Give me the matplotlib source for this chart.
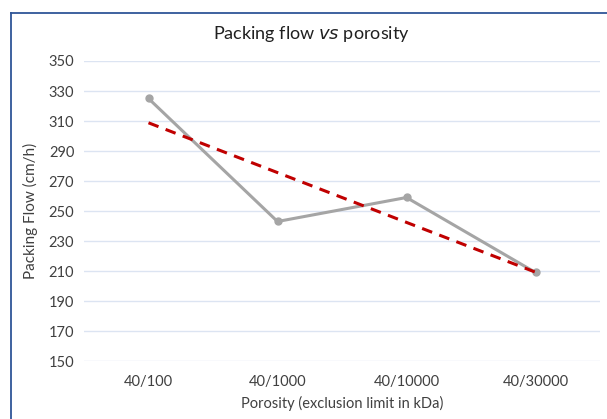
import matplotlib
matplotlib.use("Agg")
import matplotlib.pyplot as plt
import numpy as np
from matplotlib.lines import Line2D

categories = ["40/100", "40/1000", "40/10000", "40/30000"]
flow = [325, 243, 259, 209]
yticks = [150, 170, 190, 210, 230, 250, 270, 290, 310, 330, 350]

plt.rcParams['font.family'] = ['Lato', 'DejaVu Sans']

W, H = 607, 419
fig = plt.figure(figsize=(W/100, H/100), dpi=100)
ax = fig.add_axes([84/W, 1-361/H, (600-84)/W, (361-61)/H])

x = np.arange(len(categories))
ax.plot(x, flow, color="#A5A5A5", lw=2.2, marker="o", ms=5, zorder=3)
coef = np.polyfit(x, flow, 1)
ax.plot(x[[0, -1]], np.polyval(coef, x[[0, -1]]), color="#C00000", lw=2.2,
        ls=(0, (3.5, 2.5)), zorder=4)

ax.set_xlim(-0.5, len(categories) - 0.5)
ax.set_ylim(150, 350)
ax.set_yticks(yticks)
ax.set_xticks(x)
ax.set_xticklabels(categories)
ax.grid(axis="y", color="#DCE4F2", lw=1)
ax.set_axisbelow(True)
for s in ax.spines.values():
    s.set_visible(False)
ax.tick_params(length=0, labelsize=10.5, colors="#404040", pad=7)
ax.tick_params(axis="x", pad=10)

ax.set_ylabel("Packing Flow (cm/h)", fontsize=11, color="#404040", labelpad=8)
ax.set_xlabel("Porosity (exclusion limit in kDa)", fontsize=10.5, color="#404040", labelpad=5)
fig.text(0.5 * (215 + 408) / W, 1 - 34/H, r"Packing flow $\mathit{vs}$ porosity",
         ha="center", va="center", fontsize=13, color="#202020")

fig.add_artist(Line2D([10.5/W, 10.5/W], [0, 1 - 13.5/H], transform=fig.transFigure,
                      color="#2F5597", lw=1.3))
fig.add_artist(Line2D([10.5/W, 1], [1 - 13.5/H, 1 - 13.5/H], transform=fig.transFigure,
                      color="#2F5597", lw=1.3))

fig.savefig("out.png", dpi=100)
